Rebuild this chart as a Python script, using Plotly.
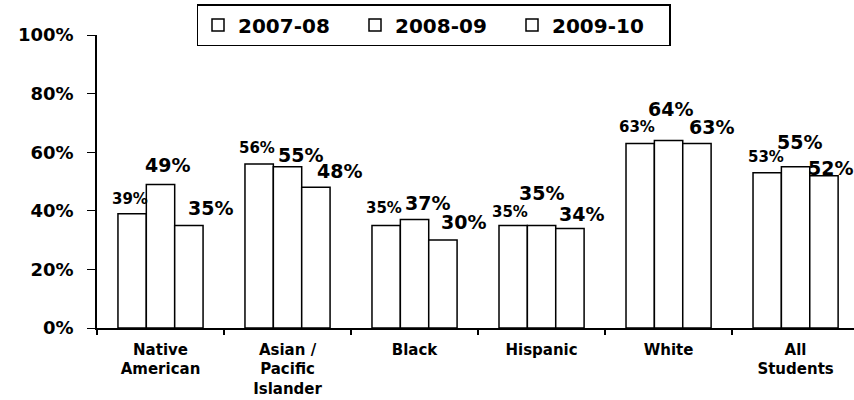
import plotly.graph_objects as go

categories = ["Native<br>American", "Asian /<br>Pacific<br>Islander", "Black", "Hispanic", "White", "All<br>Students"]
series_names = ["2007-08", "2008-09", "2009-10"]
v2007 = [0.39, 0.56, 0.35, 0.35, 0.63, 0.53]
v2008 = [0.49, 0.55, 0.37, 0.35, 0.64, 0.55]
v2009 = [0.35, 0.48, 0.30, 0.34, 0.63, 0.52]
values = [v2007, v2008, v2009]
y_ticks = [0, 0.2, 0.4, 0.6, 0.8, 1.0]

# label style offsets (pixels) per series / point
label_dx = [[-2, -2, -2, -3, -3, -1],
            [7, 13, 13, 0, 2, 4],
            [22, 24, 21, 12, 15, 7]]
label_dy = [[15, 16, 17, 13, 16, 16],
            [19, 12, 17, 32, 31, 25],
            [17, 16, 18, 14, 16, 8]]
label_size = [15, 19, 19]

FONT = "DejaVu Sans, Verdana, sans-serif"
bargap = 0.33
bw = (1 - bargap) / 3

fig = go.Figure()
n = len(categories)
for k, name in enumerate(series_names):
    fig.add_trace(go.Bar(
        x=list(range(n)), y=values[k], name="<b>%s</b>" % name,
        marker=dict(color="white", line=dict(color="black", width=1.5)),
    ))

annotations = []
for k in range(3):
    for i in range(n):
        v = values[k][i]
        annotations.append(dict(
            x=i + (k - 1) * bw, y=v, xref="x", yref="y",
            text="<b>%d%%</b>" % round(v * 100), showarrow=False,
            xanchor="center", yanchor="middle",
            xshift=label_dx[k][i], yshift=label_dy[k][i],
            font=dict(family=FONT, size=label_size[k], color="black"),
        ))

fig.update_layout(
    width=854, height=400,
    margin=dict(l=97, r=0, t=35, b=72, autoexpand=False),
    paper_bgcolor="white", plot_bgcolor="white",
    barmode="group", bargap=bargap, bargroupgap=0,
    annotations=annotations,
    showlegend=True,
    legend=dict(orientation="h", xref="container", yref="container",
                x=433.5 / 854, xanchor="center", y=1 - 25 / 400, yanchor="middle",
                bordercolor="black", borderwidth=1.5, bgcolor="white",
                font=dict(family=FONT, size=20, color="black"),
                itemwidth=30, entrywidth=112, entrywidthmode="pixels"),
    font=dict(family=FONT, color="black"),
)
fig.update_xaxes(
    range=[-0.5, 5.46], tickvals=list(range(n)),
    ticktext=["<b>%s</b>" % c for c in categories],
    tickfont=dict(family=FONT, size=15, color="black"),
    ticks="", ticklabelstandoff=7,
    showline=True, linecolor="black", linewidth=1.5,
    showgrid=False, zeroline=False,
    minor=dict(tickmode="linear", tick0=0.5, dtick=1, ticks="outside", ticklen=5,
               tickcolor="black", tickwidth=1.5, showgrid=False),
)
fig.update_yaxes(
    range=[0, 1], tickvals=y_ticks,
    ticktext=["<b>%d%%</b>" % round(t * 100) for t in y_ticks],
    tickfont=dict(family=FONT, size=18, color="black"),
    ticks="outside", ticklen=8, tickcolor="black", ticklabelstandoff=10,
    showline=True, linecolor="black", linewidth=1.5,
    showgrid=False, zeroline=False,
)

fig.write_html("out.html")
